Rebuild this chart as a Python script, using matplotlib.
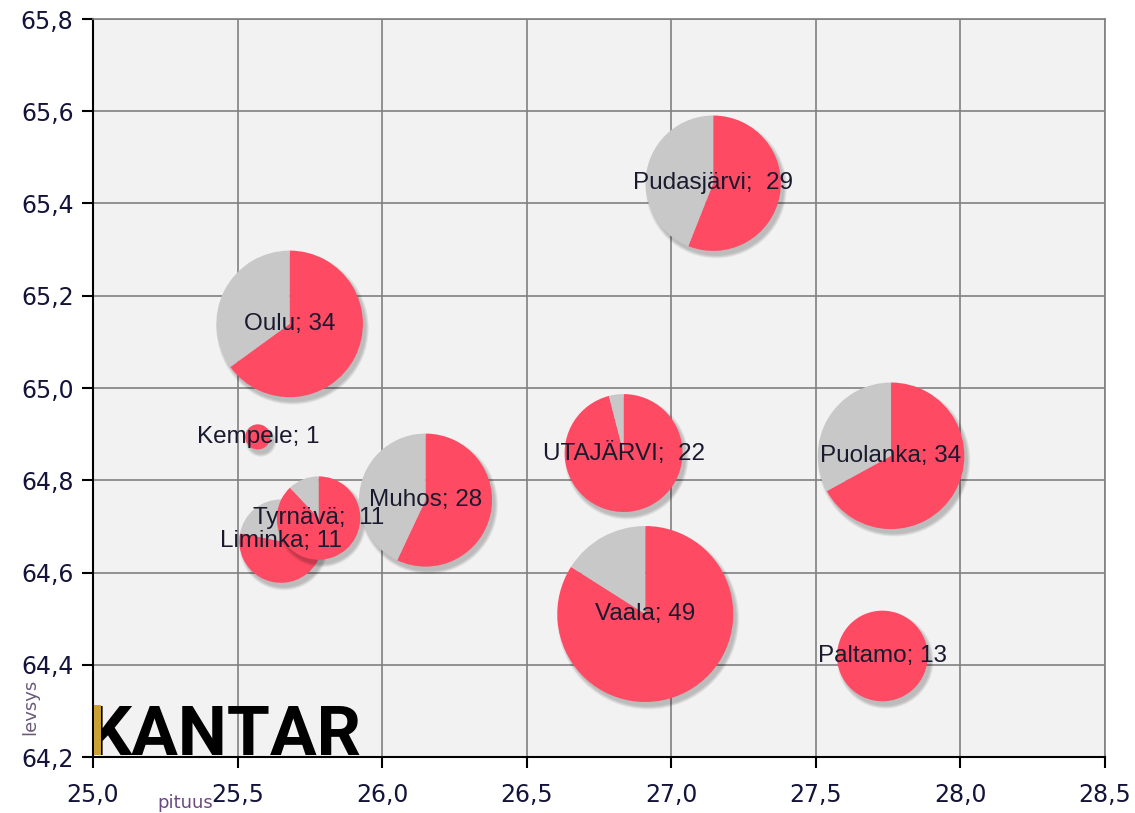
import numpy as np
import matplotlib
matplotlib.use("Agg")
import matplotlib.pyplot as plt
from matplotlib.patches import Wedge, Circle, Rectangle
from matplotlib import transforms
from matplotlib.ticker import FuncFormatter, MultipleLocator

# ---- data ----
names = ["Kempele", "Liminka", "Tyrnävä", "Muhos", "Oulu", "Paltamo",
         "Pudasjärvi", "Puolanka", "UTAJÄRVI", "Vaala"]
labels = ["Kempele; 1", "Liminka; 11", "Tyrnävä;  11", "Muhos; 28", "Oulu; 34",
          "Paltamo; 13", "Pudasjärvi;  29", "Puolanka; 34", "UTAJÄRVI;  22", "Vaala; 49"]
pituus = [25.57, 25.65, 25.78, 26.15, 25.68, 27.73, 27.145, 27.76, 26.835, 26.91]
levsys = [64.894, 64.668, 64.718, 64.757, 65.139, 64.419, 65.444, 64.853, 64.859, 64.51]
values = [1, 11, 11, 28, 34, 13, 29, 34, 22, 49]
red_share = [100, 78, 88, 57, 65, 100, 56, 67, 96, 84]   # percent of pie in red

RED = "#FF4A63"
GREY = "#C8C8C8"

fig = plt.figure(figsize=(11.35, 8.13), dpi=100)
ax = fig.add_axes([93/1135, 1-757/813, (1105-93)/1135, (757-19)/813])
ax.set_facecolor("#F2F2F2")
ax.set_xlim(25.0, 28.5)
ax.set_ylim(64.2, 65.8)
ax.xaxis.set_major_locator(MultipleLocator(0.5))
ax.yaxis.set_major_locator(MultipleLocator(0.2))
fmt = FuncFormatter(lambda v, p: f"{v:.1f}".replace(".", ","))
ax.xaxis.set_major_formatter(fmt)
ax.yaxis.set_major_formatter(fmt)
ax.grid(True, color="#808080", linewidth=1.2, zorder=0)
ax.set_axisbelow(True)
for s in ["top", "right"]:
    ax.spines[s].set_color("#808080")
    ax.spines[s].set_linewidth(1.2)
for s in ["left", "bottom"]:
    ax.spines[s].set_color("#000000")
    ax.spines[s].set_linewidth(1.5)
ax.tick_params(axis="both", length=8, width=1.5, color="#000000",
               labelsize=17, labelcolor="#14143a", pad=6)
ax.tick_params(axis="x", pad=11)

k = 12.57  # pixels per sqrt(value)
for i in range(len(names)):
    r = k * np.sqrt(values[i]) / 100.0  # inches
    trans = fig.dpi_scale_trans + transforms.ScaledTranslation(pituus[i], levsys[i], ax.transData)
    z = 2 + i
    # soft shadow
    for j in range(6):
        sh = Circle((0.03, -0.045), r + 0.006 * (5 - j), transform=trans,
                    facecolor="#000000", alpha=0.04, edgecolor="none", zorder=z)
        ax.add_patch(sh)
    fr = red_share[i] / 100.0
    ax.add_patch(Wedge((0, 0), r, 90 - 360 * fr, 90, transform=trans,
                       facecolor=RED, edgecolor="none", zorder=z + 0.1))
    if fr < 1:
        ax.add_patch(Wedge((0, 0), r, 90, 90 + 360 * (1 - fr), transform=trans,
                           facecolor=GREY, edgecolor="none", zorder=z + 0.1))

for i in range(len(names)):
    ax.text(pituus[i], levsys[i], labels[i], ha="center", va="center",
            fontsize=17.5, family="Liberation Sans", color="#1a1a2e", zorder=50)

# axis titles
fig.text(185/1135, 1-803/813, "pituus", ha="center", va="center",
         fontsize=13, color="#6a4a80")
fig.text(30/1135, 1-707/813, "levsys", ha="center", va="center", rotation=90,
         fontsize=13, color="#6a5a78")

# KANTAR logo
fig.text(88/1135, 1-755/813, "KANTAR", ha="left", va="baseline",
         fontsize=50, fontweight="bold", family="Roboto", color="#000000", zorder=60)
fig.patches.append(Rectangle((94/1135, 1-755/813), 7/1135, 50/813,
                             transform=fig.transFigure, facecolor="#C9A233",
                             edgecolor="none", zorder=61))

fig.savefig("out.png", dpi=100)
